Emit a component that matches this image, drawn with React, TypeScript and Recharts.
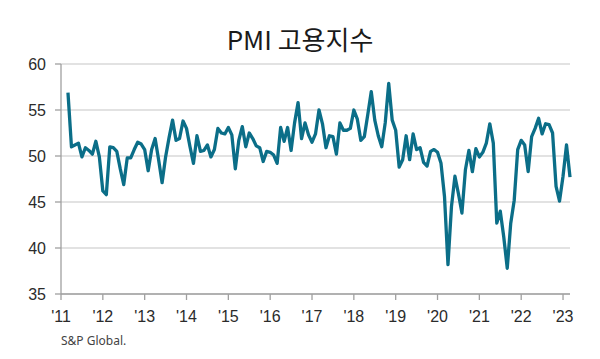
import React from "react";
import { LineChart, Line, XAxis, YAxis, CartesianGrid } from "recharts";

// Monthly PMI employment index, Mar 2011 – Mar 2023 (month index 0 = Jan 2011)
const firstMonthIndex = 2;
const employmentIndex = [
  56.9, 51.0, 51.2, 51.4, 49.9, 50.9, 50.6, 50.2, 51.6, 49.9, 46.2, 45.8,
  51.0, 50.9, 50.5, 48.6, 46.9, 49.8, 49.8, 50.7, 51.5, 51.3, 50.7, 48.4,
  50.7, 51.9, 49.6, 47.1, 49.9, 52.0, 53.9, 51.7, 51.9, 53.8, 53.0, 51.0,
  49.2, 52.2, 50.5, 50.6, 51.2, 49.9, 50.7, 53.0, 52.5, 52.4, 53.1, 52.3,
  48.6, 51.7, 53.2, 51.0, 52.5, 51.9, 51.1, 50.9, 49.4, 50.5, 50.4, 50.1,
  49.2, 53.1, 51.6, 53.1, 50.6, 53.6, 55.8, 51.9, 53.6, 52.3, 51.5, 52.4,
  55.0, 53.5, 50.9, 52.2, 52.1, 50.2, 53.6, 52.8, 52.8, 53.0, 55.0, 54.0,
  51.7, 52.1, 54.5, 57.0, 53.9, 52.2, 51.0, 53.6, 57.9, 53.9, 52.8, 48.8,
  49.6, 52.2, 49.6, 52.4, 50.7, 50.9, 49.3, 48.9, 50.5, 50.7, 50.4, 49.2,
  45.6, 38.2, 44.5, 47.8, 45.9, 43.8, 48.5, 50.6, 48.3, 50.8, 49.9, 50.4,
  51.4, 53.5, 51.4, 42.7, 44.0, 41.2, 37.8, 42.7, 45.2, 50.7, 51.7, 51.2,
  48.3, 52.1, 53.0, 54.1, 52.4, 53.5, 53.4, 52.5, 46.7, 45.1, 47.8, 51.2,
  47.7,
];

const yearTicks = [0, 12, 24, 36, 48, 60, 72, 84, 96, 108, 120, 132, 144];
const yearLabels = ["'11", "'12", "'13", "'14", "'15", "'16", "'17", "'18", "'19", "'20", "'21", "'22", "'23"];
const valueTicks = [35, 40, 45, 50, 55, 60];

const titleText = "PMI 고용지수";
const sourceText = "S&P Global.";

const data = employmentIndex.map((v, i) => ({ t: firstMonthIndex + i, v }));

export default function App() {
  return (
    <div style={{ position: "absolute", left: 0, top: 0, width: 600, height: 359, background: "#fff", overflow: "hidden" }}>
      <div
        style={{
          position: "absolute",
          left: 0,
          width: 600,
          top: 22,
          textAlign: "center",
          fontFamily: "'Noto Sans CJK KR', 'Noto Sans', sans-serif",
          fontSize: 26,
          lineHeight: "34px",
          color: "#1a1a1a",
        }}
      >
        {titleText}
      </div>
      <LineChart width={600} height={359} data={data} margin={{ top: 64, right: 30, bottom: 0, left: 0 }}>
        <CartesianGrid horizontal vertical={false} stroke="#d9d9d9" strokeWidth={1.3} />
        <XAxis
          dataKey="t"
          type="number"
          domain={[0, 146]}
          ticks={yearTicks}
          tickFormatter={(t: number) => yearLabels[yearTicks.indexOf(t)] ?? ""}
          height={65}
          interval={0}
          axisLine={{ stroke: "#a0a0a0", strokeWidth: 1.3 }}
          tickLine={{ stroke: "#a0a0a0", strokeWidth: 1.3 }}
          tickSize={6}
          tickMargin={11}
          tick={{ fill: "#2b2b2b", fontSize: 16, fontFamily: "'Liberation Sans', Arial, sans-serif" }}
        />
        <YAxis
          type="number"
          domain={[35, 60]}
          ticks={valueTicks}
          width={61}
          interval={0}
          axisLine={{ stroke: "#a0a0a0", strokeWidth: 1.3 }}
          tickLine={{ stroke: "#a0a0a0", strokeWidth: 1.3 }}
          tickSize={6}
          tickMargin={9}
          tick={{ fill: "#2b2b2b", fontSize: 16, fontFamily: "'Liberation Sans', Arial, sans-serif" }}
        />
        <Line
          type="linear"
          dataKey="v"
          stroke="#0b6e88"
          strokeWidth={3.3}
          dot={false}
          activeDot={false}
          isAnimationActive={false}
          strokeLinejoin="round"
        />
      </LineChart>
      <div
        style={{
          position: "absolute",
          left: 61,
          top: 333,
          fontFamily: "'Noto Sans', sans-serif",
          fontSize: 12,
          lineHeight: "16px",
          color: "#444",
        }}
      >
        {sourceText}
      </div>
    </div>
  );
}
